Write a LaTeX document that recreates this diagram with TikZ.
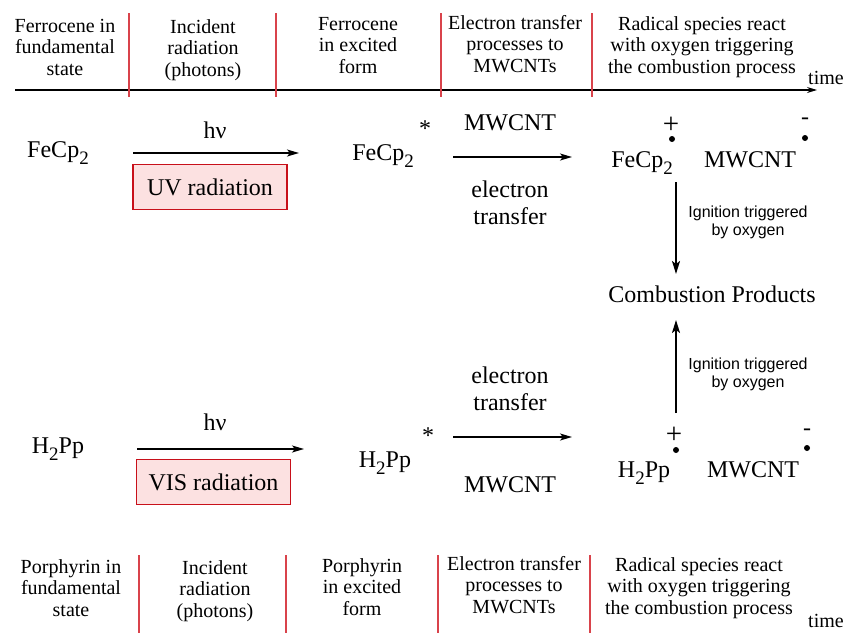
\documentclass[tikz,border=0pt]{standalone}
\usepackage{fontspec}
\setmainfont{Liberation Serif}
\newfontfamily\arialfont{Liberation Sans}
\usetikzlibrary{arrows.meta}
\newcommand{\mysub}[1]{\raisebox{-0.32em}{\fontsize{19}{19}\selectfont #1}}
\definecolor{sepred}{HTML}{D9434B}
\definecolor{boxred}{HTML}{C8101A}
\definecolor{boxfill}{HTML}{FCE1E1}
\begin{document}
\begin{tikzpicture}[x=1pt,y=-1pt,
  hdr/.style={align=center, font=\fontsize{20}{21.5}\selectfont, inner sep=0pt, anchor=base},
  chem/.style={font=\fontsize{24}{27}\selectfont, inner sep=0pt, anchor=base},
  sans/.style={align=center, font=\arialfont\fontsize{16}{17.5}\selectfont, inner sep=0pt, anchor=base},
  sep/.style={draw=sepred, line width=1.1pt},
  axis/.style={-{Stealth[length=10pt,width=6pt]}, line width=1.3pt},
  arr/.style={-{Stealth[length=12pt,width=7pt,inset=3pt]}, line width=1.6pt},
  varr/.style={-{Stealth[length=13pt,width=8pt,inset=3pt]}, line width=1.8pt},
  radbox/.style={draw=boxred, fill=boxfill, line width=1.3pt, minimum width=154pt, minimum height=45pt, inner sep=0pt, font=\fontsize{24}{27}\selectfont},
  dot/.style={circle, fill=black, inner sep=0pt, minimum size=6pt},
  chg/.style={font=\fontsize{24}{24}\selectfont, inner sep=0pt},
  plus/.style={font=\fontsize{29}{29}\selectfont, inner sep=0pt}
]
\useasboundingbox (0,0) rectangle (843,632);
\clip (0,0) rectangle (843,632);

% ---------- top time axis and headers ----------
\coordinate (ta0) at (15,90);
\coordinate (ta1) at (817,90);
\draw[axis] (ta0) -- (ta1);
\node[hdr] (ttime) at (826,84) {time};

\coordinate (t1a) at (129,13); \coordinate (t1b) at (129,97);
\coordinate (t2a) at (276,13); \coordinate (t2b) at (276,97);
\coordinate (t3a) at (441,13); \coordinate (t3b) at (441,97);
\coordinate (t4a) at (592,13); \coordinate (t4b) at (592,97);
\draw[sep] (t1a) -- (t1b);
\draw[sep] (t2a) -- (t2b);
\draw[sep] (t3a) -- (t3b);
\draw[sep] (t4a) -- (t4b);

\node[hdr] (h1) at (65,75) {Ferrocene in\\fundamental\\state};
\node[hdr] (h2) at (203,76) {Incident\\radiation\\(photons)};
\node[hdr] (h3) at (358,73) {Ferrocene\\in excited\\form};
\node[hdr] (h4) at (515,72) {Electron transfer\\processes to\\MWCNTs};
\node[hdr] (h5) at (702,73) {Radical species react\\with oxygen triggering\\the combustion process};

% ---------- ferrocene row ----------
\node[chem] (fe1) at (58,157) {FeCp\mysub{2}};
\coordinate (a1s) at (133,153);
\coordinate (a1e) at (299,153);
\draw[arr] (a1s) -- (a1e);
\node[chem] (hv1) at (215,138) {hν};
\node[radbox] (uv) at (210,187) {UV radiation};
\node[chem] (fe2) at (383,160) {FeCp\mysub{2}};
\node[chg] (st1) at (425,129) {*};
\node[chem] (mw1) at (510,130) {MWCNT};
\coordinate (a2s) at (453,157);
\coordinate (a2e) at (572,157);
\draw[arr] (a2s) -- (a2e);
\node[chem, align=center, font=\fontsize{24}{27}\selectfont] (et1) at (510,224) {electron\\transfer};
\node[chem] (fe3) at (642,167) {FeCp\mysub{2}};
\node[plus] (p1) at (671,125) {+};
\node[dot] (d1) at (672,139) {};
\node[chem] (mw2) at (750,167) {MWCNT};
\node[chg] (m1) at (805,121) {-};
\node[dot] (d2) at (805,138) {};

% ---------- combustion ----------
\node[chem] (cp) at (712,302) {Combustion Products};
\coordinate (v1s) at (676,182);
\coordinate (v1e) at (676,274);
\draw[varr] (v1s) -- (v1e);
\node[sans] (ig1) at (748,235) {Ignition triggered\\by oxygen};
\coordinate (v2s) at (676,413);
\coordinate (v2e) at (676,320);
\draw[varr] (v2s) -- (v2e);
\node[sans] (ig2) at (748,387) {Ignition triggered\\by oxygen};

% ---------- porphyrin row ----------
\node[chem] (hp1) at (58,453) {H\mysub{2}Pp};
\coordinate (b1s) at (137,449);
\coordinate (b1e) at (304,449);
\draw[arr] (b1s) -- (b1e);
\node[chem] (hv2) at (215,430) {hν};
\node[radbox] (vis) at (213.5,482) {VIS radiation};
\node[chem] (hp2) at (385,467) {H\mysub{2}Pp};
\node[chg] (st2) at (428,436) {*};
\node[chem, align=center, font=\fontsize{24}{27}\selectfont] (et2) at (510,410) {electron\\transfer};
\coordinate (b2s) at (453,437);
\coordinate (b2e) at (572,437);
\draw[arr] (b2s) -- (b2e);
\node[chem] (mw3) at (510,492) {MWCNT};
\node[chem] (hp3) at (644,477) {H\mysub{2}Pp};
\node[plus] (p2) at (674,435) {+};
\node[dot] (d3) at (676,450) {};
\node[chem] (mw4) at (753,477) {MWCNT};
\node[chg] (m2) at (807,432) {-};
\node[dot] (d4) at (807,448) {};

% ---------- bottom headers ----------
\coordinate (b1a) at (139,555); \coordinate (b1b) at (139,640);
\coordinate (b2a) at (286,555); \coordinate (b2b) at (286,640);
\coordinate (b3a) at (438,555); \coordinate (b3b) at (438,640);
\coordinate (b4a) at (590,555); \coordinate (b4b) at (590,640);
\draw[sep] (b1a) -- (b1b);
\draw[sep] (b2a) -- (b2b);
\draw[sep] (b3a) -- (b3b);
\draw[sep] (b4a) -- (b4b);

\node[hdr] (g1) at (71,616) {Porphyrin in\\fundamental\\state};
\node[hdr] (g2) at (215,617) {Incident\\radiation\\(photons)};
\node[hdr] (g3) at (362,615) {Porphyrin\\in excited\\form};
\node[hdr] (g4) at (514,613) {Electron transfer\\processes to\\MWCNTs};
\node[hdr] (g5) at (699,614) {Radical species react\\with oxygen triggering\\the combustion process};
\node[hdr] (btime) at (826,627) {time};
\coordinate (ba0) at (15,637);
\coordinate (ba1) at (817,637);
\draw[axis] (ba0) -- (ba1);
\end{tikzpicture}
\end{document}
